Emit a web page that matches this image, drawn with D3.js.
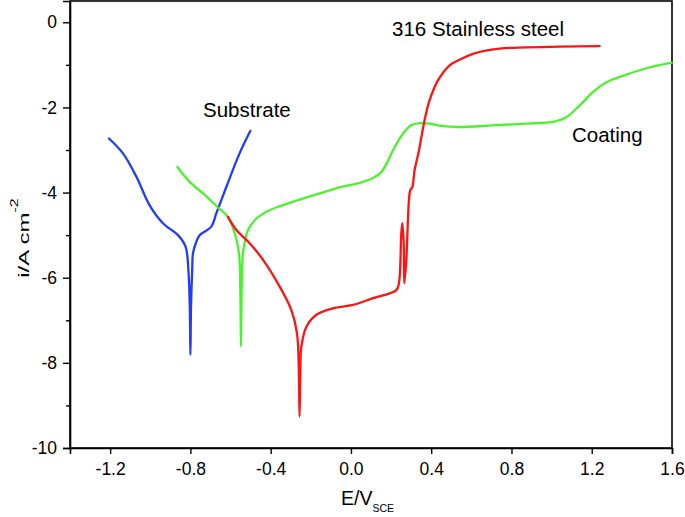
<!DOCTYPE html>
<html><head><meta charset="utf-8">
<script src="https://cdn.jsdelivr.net/npm/d3@7"></script>
<style>body{margin:0;background:#fff}text{font-family:Arial,"Liberation Sans",sans-serif}</style>
</head><body><svg id="c" width="685" height="517"></svg>
<script>
const xTicks = [-1.2,-0.8,-0.4,0.0,0.4,0.8,1.2,1.6];
const yTicks = [0,-2,-4,-6,-8,-10];
const yMinor = [-1,-3,-5,-7,-9];
const substrateE = [-1.206,-1.136,-1.069,-1.003,-0.937,-0.862,-0.824,-0.810,-0.803,-0.800,-0.797,-0.791,-0.787,-0.770,-0.754,-0.696,-0.671,-0.621,-0.555,-0.501];
const substrateI = [-2.73,-3.08,-3.63,-4.30,-4.72,-5.00,-5.27,-5.82,-6.70,-7.81,-6.70,-5.80,-5.42,-5.15,-5.00,-4.80,-4.49,-3.87,-3.08,-2.55];
const coatingE = [-0.865,-0.804,-0.737,-0.663,-0.613,-0.579,-0.558,-0.551,-0.548,-0.545,-0.538,-0.513,-0.471,-0.422,-0.355,-0.239,-0.073,0.043,0.110,0.151,0.185,0.209,0.259,0.300,0.342,0.392,0.442,0.542,0.708,0.874,1.006,1.073,1.140,1.206,1.273,1.372,1.472,1.599];
const coatingI = [-3.40,-3.75,-4.02,-4.35,-4.57,-4.96,-5.43,-6.40,-7.62,-6.40,-5.43,-4.88,-4.61,-4.45,-4.32,-4.14,-3.90,-3.77,-3.66,-3.52,-3.25,-3.01,-2.62,-2.42,-2.37,-2.38,-2.43,-2.46,-2.42,-2.38,-2.34,-2.23,-1.95,-1.64,-1.41,-1.23,-1.08,-0.95];
const steelE = [-0.613,-0.571,-0.505,-0.438,-0.355,-0.297,-0.269,-0.260,-0.256,-0.252,-0.247,-0.222,-0.172,-0.090,0.010,0.110,0.226,0.239,0.251,0.256,0.263,0.266,0.276,0.289,0.296,0.306,0.317,0.339,0.367,0.392,0.433,0.492,0.533,0.608,0.741,0.874,1.040,1.239];
const steelI = [-4.57,-4.88,-5.19,-5.58,-6.21,-6.76,-7.30,-8.10,-9.26,-8.10,-7.62,-7.15,-6.87,-6.72,-6.64,-6.48,-6.29,-6.13,-4.96,-4.72,-5.19,-6.13,-5.58,-4.18,-3.94,-3.87,-3.48,-3.01,-2.30,-1.83,-1.37,-1.01,-0.90,-0.74,-0.62,-0.59,-0.57,-0.56];

const svg = d3.select("#c");
const L=70, R=672, T=1, B=448;
const x = d3.scaleLinear().domain([-1.4,1.6]).range([L,R]);
const y = d3.scaleLinear().domain([-10,0.5]).range([B,T]);

svg.append("rect").attr("x",L).attr("y",T).attr("width",R-L).attr("height",B-T)
  .attr("fill","none").attr("stroke","#000").attr("stroke-width",1.6);

const fmtX = d=>d3.format(".1f")(d).replace("−","-");
const xa = svg.append("g").attr("transform",`translate(0,${B})`)
  .call(d3.axisBottom(x).tickValues(xTicks).tickFormat(fmtX).tickSize(6).tickPadding(9));
const ya = svg.append("g").attr("transform",`translate(${L},0)`)
  .call(d3.axisLeft(y).tickValues(yTicks).tickFormat(d=>d3.format("d")(d).replace("−","-")).tickSize(7).tickPadding(6));
svg.append("g").attr("transform",`translate(${L},0)`)
  .call(d3.axisLeft(y).tickValues(yMinor).tickFormat("").tickSize(4))
  .select(".domain").remove();
svg.selectAll(".tick line").attr("stroke-width",1.4);
svg.selectAll(".domain").attr("stroke-width",1.6);
xa.selectAll("text").attr("font-size",17.5).attr("fill","#000");
ya.selectAll("text").attr("font-size",17.5).attr("fill","#000");

const line = d3.line().x(d=>x(d[0])).y(d=>y(d[1])).curve(d3.curveCatmullRom.alpha(0.5));
function draw(E,I,col){
  svg.append("path").datum(d3.zip(E,I)).attr("d",line).attr("fill","none")
    .attr("stroke",col).attr("stroke-width",2.3).attr("stroke-linejoin","round").attr("stroke-linecap","round");
}
draw(substrateE,substrateI,"#1f3cff");
draw(coatingE,coatingI,"#4df22e");
draw(steelE,steelI,"#ff1414");

svg.append("text").attr("x",203).attr("y",117).attr("font-size",20.5).text("Substrate");
svg.append("text").attr("x",392).attr("y",36).attr("font-size",20.5).text("316 Stainless steel");
svg.append("text").attr("x",572).attr("y",142).attr("font-size",20.5).text("Coating");

const xt = svg.append("text").attr("x",341).attr("y",505).attr("font-size",19.5);
xt.append("tspan").text("E/V");
xt.append("tspan").attr("font-size",10.5).attr("dy",7).text("SCE");

const yt = svg.append("text").attr("transform","translate(29,238) rotate(-90) scale(1.6,1)").attr("text-anchor","middle").attr("font-size",15);
yt.append("tspan").text("i/A cm");
yt.append("tspan").attr("font-size",10).attr("dy",-11).text("-2");
</script></body></html>
